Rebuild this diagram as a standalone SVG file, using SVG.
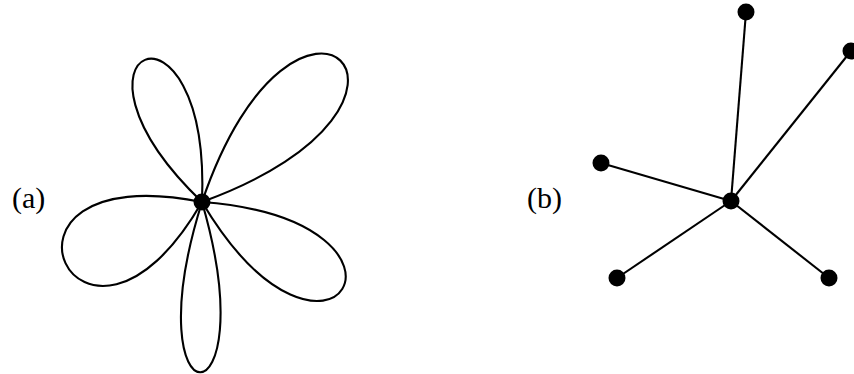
<svg xmlns="http://www.w3.org/2000/svg" width="854" height="374" viewBox="0 0 854 374">
<style>
.lbl{font-family:"Liberation Serif","Times New Roman",serif;font-size:30px;fill:#000}
.edge{stroke:#000;stroke-width:2.1;fill:none}
.dot{fill:#000}
</style>
<rect width="854" height="374" fill="#fff"/>
<text class="lbl" x="12" y="208">(a)</text>
<text class="lbl" x="527" y="208">(b)</text>
<g id="connectors">
<g id="petals">
<path class="edge" d="M202 202 C41 47 211 -22 202 202"/>
<path class="edge" d="M202 202 C296 -75 477 102 202 202"/>
<path class="edge" d="M202 202 C-40 154 80 413 202 202"/>
<path class="edge" d="M202 202 C131 428 268 430 202 202"/>
<path class="edge" d="M202 202 C449 221 329 415 202 202"/>
</g>
<g id="spokes">
<line class="edge" x1="731" y1="201" x2="746" y2="12"/>
<line class="edge" x1="731" y1="201" x2="851" y2="51"/>
<line class="edge" x1="731" y1="201" x2="601" y2="163"/>
<line class="edge" x1="731" y1="201" x2="617" y2="278"/>
<line class="edge" x1="731" y1="201" x2="829" y2="278"/>
</g>
</g>
<g id="a-center"><circle class="dot" cx="202" cy="202" r="8.5"/></g>
<g id="b-center"><circle class="dot" cx="731" cy="201" r="8.5"/></g>
<g id="b-top"><circle class="dot" cx="746" cy="12" r="8.5"/></g>
<g id="b-topright"><circle class="dot" cx="851" cy="51" r="8.5"/></g>
<g id="b-left"><circle class="dot" cx="601" cy="163" r="8.5"/></g>
<g id="b-bottomleft"><circle class="dot" cx="617" cy="278" r="8.5"/></g>
<g id="b-bottomright"><circle class="dot" cx="829" cy="278" r="8.5"/></g>
</svg>
